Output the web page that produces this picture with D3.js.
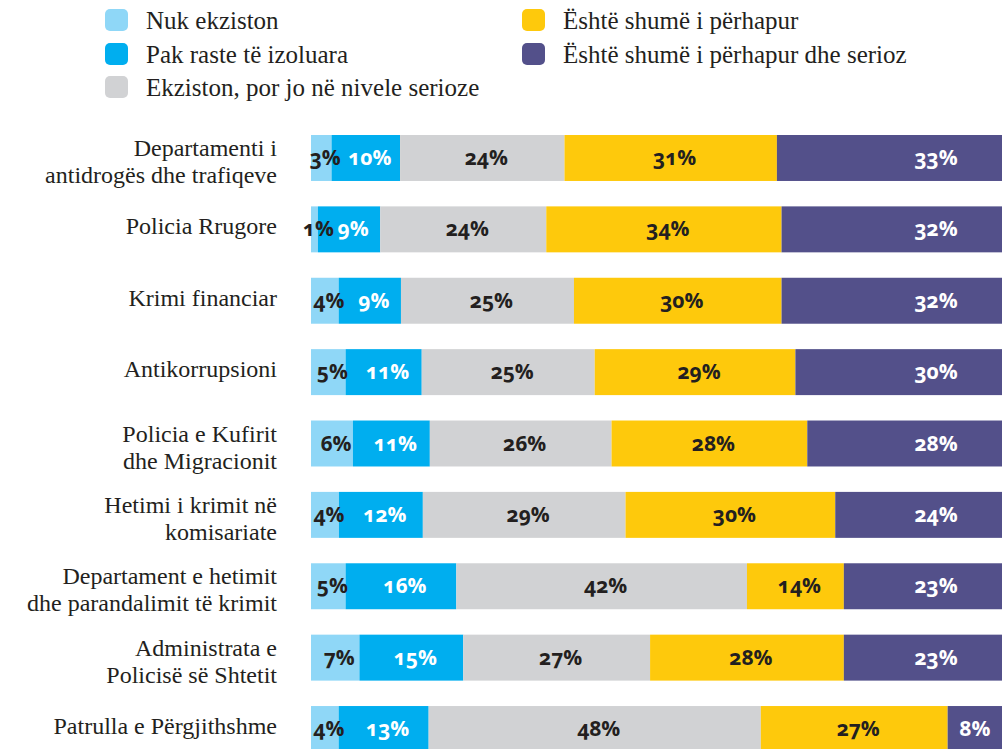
<!DOCTYPE html>
<html>
<head>
<meta charset="utf-8">
<script src="https://cdn.jsdelivr.net/npm/d3@7"></script>
<style>
  body { margin: 0; background: #fff; }
  svg { display: block; }
</style>
</head>
<body>
<svg width="1002" height="749"></svg>
<script>
var categories = [
    "Departamenti i\nantidrogës dhe trafiqeve",
    "Policia Rrugore",
    "Krimi financiar",
    "Antikorrupsioni",
    "Policia e Kufirit\ndhe Migracionit",
    "Hetimi i krimit në\nkomisariate",
    "Departament e hetimit\ndhe parandalimit të krimit",
    "Administrata e\nPolicisë së Shtetit",
    "Patrulla e Përgjithshme"
];
var seriesNames = [
    "Nuk ekziston",
    "Pak raste të izoluara",
    "Ekziston, por jo në nivele serioze",
    "Është shumë i përhapur",
    "Është shumë i përhapur dhe serioz"
];
var nukEkziston  = [3, 1, 4, 5, 6, 4, 5, 7, 4];
var pakRaste     = [10, 9, 9, 11, 11, 12, 16, 15, 13];
var joSerioze    = [24, 24, 25, 25, 26, 29, 42, 27, 48];
var shumePerhapur = [31, 34, 30, 29, 28, 30, 14, 28, 27];
var perhapurSerioz = [33, 32, 32, 30, 28, 24, 23, 23, 8];

var colors = ["#8fd7f7", "#00aeef", "#d1d2d4", "#fec90c", "#53508a"];
var textColors = ["#231f20", "#ffffff", "#231f20", "#231f20", "#ffffff"];

function main() {
    var svg = d3.select("svg"),
        width = +svg.attr("width");

    var keys = ["s0", "s1", "s2", "s3", "s4"];
    var allSeries = [nukEkziston, pakRaste, joSerioze, shumePerhapur, perhapurSerioz];
    var data = categories.map(function(c, i) {
        var row = { cat: c };
        keys.forEach(function(k, j) { row[k] = allSeries[j][i]; });
        return row;
    });

    // rows don't all sum to exactly 100, bars still fill the full width
    var xScale = d3.scaleLinear().domain([0, 1]).range([311, 1003]);
    var yScale = d3.scaleBand()
                   .domain(categories)
                   .range([135, 752])
                   .paddingInner(0.356)
                   .paddingOuter(0);

    var stacked = d3.stack().keys(keys).offset(d3.stackOffsetExpand)(data);

    // legend
    var legend = svg.append("g");
    var legPos = [[105, 9], [105, 43], [105, 76], [522, 9], [522, 43]];
    seriesNames.forEach(function(name, i) {
        var g = legend.append("g")
            .attr("transform", "translate(" + legPos[i][0] + "," + legPos[i][1] + ")");
        g.append("rect")
         .attr("width", 23)
         .attr("height", 22)
         .attr("rx", 5)
         .attr("fill", colors[i]);
        g.append("text")
         .attr("x", 41)
         .attr("y", 20)
         .attr("font-family", "Liberation Serif, serif")
         .attr("font-size", "25px")
         .attr("fill", "#231f20")
         .text(name);
    });

    // category labels
    var catLabels = svg.append("g");
    categories.forEach(function(c) {
        var lines = c.split("\n");
        var cy = yScale(c) + yScale.bandwidth() / 2;
        var y0 = lines.length == 1 ? cy + 5 : cy - 2;
        lines.forEach(function(l, k) {
            catLabels.append("text")
             .attr("text-anchor", "end")
             .attr("font-family", "Liberation Serif, serif")
             .attr("font-size", "24px")
             .attr("fill", "#231f20")
             .attr("x", 277)
             .attr("y", y0 + k * 27)
             .text(l);
        });
    });

    // bars
    var layers = svg.selectAll(".layer")
        .data(stacked)
        .enter().append("g")
        .attr("class", "layer")
        .attr("fill", function(d, i) { return colors[i]; });

    layers.selectAll("rect")
        .data(function(d) { return d; })
        .enter().append("rect")
        .attr("x", function(d) { return xScale(d[0]); })
        .attr("y", function(d) { return yScale(d.data.cat); })
        .attr("width", function(d) { return xScale(d[1]) - xScale(d[0]); })
        .attr("height", yScale.bandwidth());

    // value labels
    stacked.forEach(function(layer, i) {
        svg.append("g").selectAll("text")
           .data(layer)
           .enter().append("text")
           .attr("x", function(d) {
                var x0 = xScale(d[0]), x1 = Math.min(xScale(d[1]), width);
                if (i == 4) return Math.max(x1 - 66, (x0 + x1) / 2);
                return (x0 + x1) / 2 + 4;
           })
           .attr("y", function(d) { return yScale(d.data.cat) + yScale.bandwidth() / 2 + 7; })
           .attr("text-anchor", "middle")
           .attr("font-family", "Open Sans, sans-serif")
           .attr("font-weight", "bold")
           .attr("font-size", "21px")
           .style("font-variant-numeric", "oldstyle-nums")
           .attr("fill", textColors[i])
           .text(function(d) { return d.data[keys[i]] + "%"; });
    });
}
main();
</script>
</body>
</html>
